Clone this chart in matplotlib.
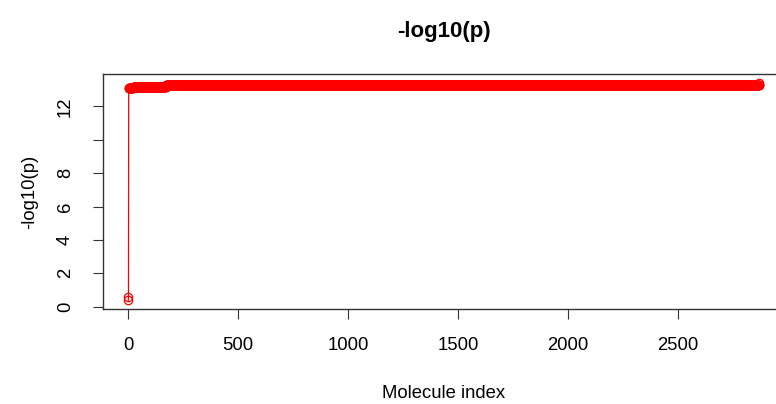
import numpy as np
import matplotlib
matplotlib.use("Agg")
import matplotlib.pyplot as plt

plt.rcParams['font.family'] = ['Liberation Sans', 'DejaVu Sans']

# Sorted -log10(p) values, stored as run-length (value, count)
run_values = [0.38, 0.55, 13.08, 13.15, 13.27, 13.29, 13.42]
run_counts = [1, 1, 20, 150, 1000, 1697, 1]

xticks = [0, 500, 1000, 1500, 2000, 2500]
yticks = [0, 2, 4, 6, 8, 10, 12]
ytick_labels = ["0", "2", "4", "6", "8", "", "12"]

title = "-log10(p)"
xlabel = "Molecule index"
ylabel = "-log10(p)"

y = np.repeat(run_values, run_counts)
x = np.arange(1, len(y) + 1)

W, H = 776, 404
fig = plt.figure(figsize=(W / 100, H / 100), dpi=100)
left, right, top, bottom = 103, 784.7, 74, 309
ax = fig.add_axes([left / W, 1 - bottom / H, (right - left) / W, (bottom - top) / H])

red = '#FF0000'
ax.plot(x, y, color=red, lw=0.9, marker='o', markersize=6.0, markerfacecolor='none',
        markeredgecolor=red, markeredgewidth=0.9)

ax.margins(x=0.04, y=0.04)
ax.set_xticks(xticks)
ax.set_yticks(yticks)
ax.set_yticklabels(ytick_labels)
ax.tick_params(axis='both', length=7, width=0.8, color='#333333', labelsize=13.3)
ax.tick_params(axis='x', pad=13)
ax.tick_params(axis='y', pad=14, labelrotation=90)
for lab in ax.get_yticklabels():
    lab.set_verticalalignment('center')

for s in ax.spines.values():
    s.set_linewidth(1.0)
    s.set_color('#333333')

ax.set_title(title, fontsize=16, fontweight='bold', pad=27)
ax.set_xlabel(xlabel, fontsize=13.3)
ax.set_ylabel(ylabel, fontsize=13.3)
ax.xaxis.set_label_coords(0.5, (bottom - 393) / (bottom - top))
ax.yaxis.set_label_coords((30 - left) / (right - left), 0.5)
ax.xaxis.label.set_verticalalignment('center')
ax.yaxis.label.set_verticalalignment('center')

fig.savefig("out.png", dpi=100)
